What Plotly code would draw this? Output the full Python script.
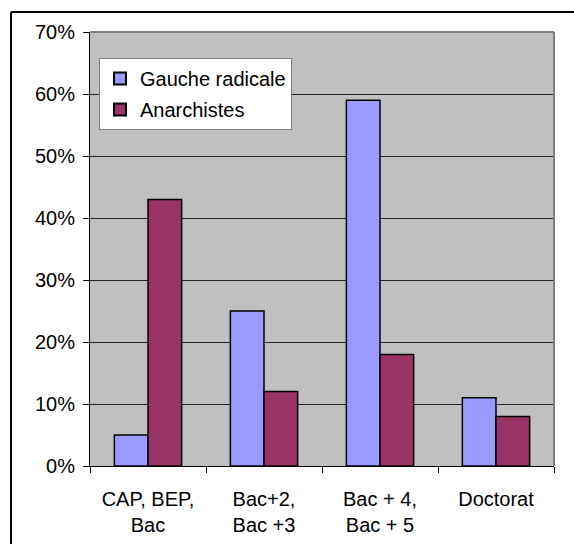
import plotly.graph_objects as go

categories = ["CAP, BEP,<br>Bac", "Bac+2,<br>Bac +3", "Bac + 4,<br>Bac + 5", "Doctorat"]
gauche_radicale = [0.05, 0.25, 0.59, 0.11]
anarchistes = [0.43, 0.12, 0.18, 0.08]
y_ticks = [0, 0.1, 0.2, 0.3, 0.4, 0.5, 0.6, 0.7]
y_tick_labels = ["0%", "10%", "20%", "30%", "40%", "50%", "60%", "70%"]

W, H = 574, 544
L, R, T, B = 90, 20, 32, 78
pw, ph = W - L - R, H - T - B

def px_x(x):
    return (x - L) / pw

def px_y(y):
    return (H - B - y) / ph

fig = go.Figure()
fig.add_trace(go.Bar(name="Gauche radicale", x=categories, y=gauche_radicale, legendgroup="g1",
                     marker=dict(color="#9999FF", line=dict(color="black", width=1.5))))
fig.add_trace(go.Bar(name="Anarchistes", x=categories, y=anarchistes, legendgroup="g2",
                     marker=dict(color="#993366", line=dict(color="black", width=1.5))))

font = dict(family="Liberation Sans, Arial, sans-serif", size=20, color="black")

fig.update_layout(
    width=W, height=H,
    margin=dict(l=L, r=R, t=T, b=B, pad=0),
    paper_bgcolor="white",
    plot_bgcolor="#C0C0C0",
    barmode="group",
    bargap=0.42,
    bargroupgap=0,
    font=font,
    showlegend=True,
    legend=dict(
        x=px_x(99), y=px_y(58), xanchor="left", yanchor="top",
        bgcolor="white", bordercolor="#808080", borderwidth=1,
        font=font, itemsizing="constant", tracegroupgap=2,
    ),
    xaxis=dict(
        showline=True, linecolor="black", linewidth=1,
        ticks="outside", ticklen=6, tickcolor="black", tickson="boundaries",
        showgrid=False, tickfont=font, mirror=False, ticklabelstandoff=15,
        automargin=False,
    ),
    yaxis=dict(
        range=[0, 0.7], tickvals=y_ticks, ticktext=y_tick_labels,
        showline=True, linecolor="black", linewidth=1,
        ticks="outside", ticklen=6, tickcolor="black",
        showgrid=True, gridcolor="#222222", gridwidth=1,
        zeroline=False, tickfont=font, ticklabelstandoff=4, automargin=False,
    ),
    shapes=[
        dict(type="line", xref="paper", yref="paper", x0=0, x1=1, y0=1, y1=1,
             line=dict(color="#808080", width=2)),
        dict(type="line", xref="paper", yref="paper", x0=1, x1=1, y0=0, y1=1,
             line=dict(color="#808080", width=2)),
        dict(type="line", xref="paper", yref="paper", x0=px_x(11), x1=px_x(11),
             y0=px_y(12), y1=px_y(560), line=dict(color="black", width=2)),
        dict(type="line", xref="paper", yref="paper", x0=px_x(11), x1=px_x(590),
             y0=px_y(12), y1=px_y(12), line=dict(color="black", width=2)),
    ],
)

fig.write_html("out.html", config={"displayModeBar": False},
               post_script="document.body.style.margin='0';document.body.style.overflow='hidden';")
